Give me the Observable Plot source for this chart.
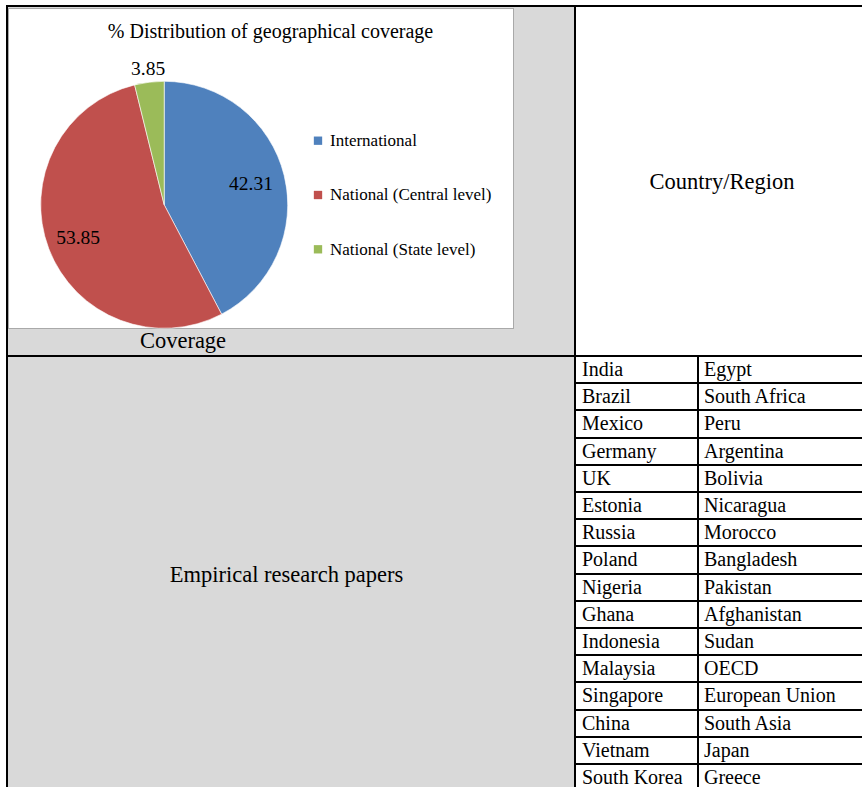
<!DOCTYPE html>
<html><head><meta charset="utf-8">
<script src="https://cdn.jsdelivr.net/npm/d3@7"></script>
<script src="https://cdn.jsdelivr.net/npm/@observablehq/plot@0.6"></script>
<style>
html,body{margin:0;padding:0;background:#fff;overflow:hidden;width:862px;height:787px;}
body{position:relative;font-family:"Liberation Serif","Times New Roman",serif;color:#000;}
.abs{position:absolute;}
.ln{position:absolute;background:#000;}
.cell{position:absolute;font-size:20px;white-space:nowrap;}
.big{position:absolute;font-size:22.5px;display:flex;align-items:center;justify-content:center;white-space:nowrap;}
</style></head><body>
<script>
// ---------- data ----------
const chartTitle = "% Distribution of geographical coverage";
const categories = ["International", "National (Central level)", "National (State level)"];
const shares = [42.31, 53.85, 3.85];
const shareLabels = ["42.31", "53.85", "3.85"];
const sliceColors = ["#4f81bd", "#c0504d", "#9bbb59"];
const countriesCol1 = ["India","Brazil","Mexico","Germany","UK","Estonia","Russia","Poland","Nigeria","Ghana","Indonesia","Malaysia","Singapore","China","Vietnam","South Korea"];
const countriesCol2 = ["Egypt","South Africa","Peru","Argentina","Bolivia","Nicaragua","Morocco","Bangladesh","Pakistan","Afghanistan","Sudan","OECD","European Union","South Asia","Japan","Greece"];
const headerRight = "Country/Region";
const headerLeftBottom = "Empirical research papers";
const coverageLabel = "Coverage";

// ---------- layout ----------
const body = document.body;
function add(cls, css, text) {
  const d = document.createElement("div");
  d.className = cls;
  Object.assign(d.style, css);
  if (text != null) d.textContent = text;
  body.appendChild(d);
  return d;
}
// grey cells
add("abs", {left:"8px", top:"7px", width:"566px", height:"348px", background:"#d9d9d9"});
add("abs", {left:"8px", top:"357px", width:"566px", height:"440px", background:"#d9d9d9"});
// main grid lines
add("ln", {left:"6px", top:"5px", width:"870px", height:"2px"});
add("ln", {left:"6px", top:"5px", width:"2px", height:"800px"});
add("ln", {left:"574px", top:"5px", width:"2px", height:"800px"});
add("ln", {left:"6px", top:"355px", width:"870px", height:"2px"});
// country table
const rowH = 27.2, tableTop = 355;
add("ln", {left:"697px", top:tableTop + "px", width:"2px", height:"450px"});
countriesCol1.forEach((c, i) => {
  const top = tableTop + (i + 1) * rowH;
  add("ln", {left:"576px", top: top + "px", width:"300px", height:"2px"});
  const ty = tableTop + 2 + i * rowH;
  add("cell", {left:"582px", top: ty + "px", height:(rowH - 2) + "px", lineHeight:(rowH - 2) + "px"}, c);
  add("cell", {left:"704px", top: ty + "px", height:(rowH - 2) + "px", lineHeight:(rowH - 2) + "px"}, countriesCol2[i]);
});
// big labels
add("big", {left:"576px", top:"7px", width:"292px", height:"350px"}, headerRight);
add("big", {left:"8px", top:"357px", width:"557px", height:"436px"}, headerLeftBottom);
add("abs", {left:"8px", top:"330px", width:"350px", textAlign:"center", fontSize:"22.5px", lineHeight:"22.5px"}, coverageLabel);

// chart box
const box = add("abs", {left:"8px", top:"8px", width:"506px", height:"321px", background:"#fff",
  border:"1.5px solid #a9a9a9", boxSizing:"border-box", overflow:"visible"});

// ---------- pie chart (Plot) ----------
const W = 503, H = 318;
const CX = 155.2, CY = 195.8, R = 123.5;
const labelRadius = [0.72, 0.75, 1.115];
const data = categories.map((c, i) => ({category: c, value: shares[i], label: shareLabels[i]}));
const arcs = d3.pie().sort(null).value(d => d.value)(data);
const mid = a => (a.startAngle + a.endAngle) / 2;

function pieMark(index, scales, values, dimensions, context) {
  const g = d3.create("svg:g");
  const arc = d3.arc().innerRadius(0).outerRadius(R);
  g.attr("transform", `translate(${scales.x(CX)},${scales.y(CY)})`)
    .selectAll("path").data(arcs).join("path")
    .attr("d", arc)
    .attr("fill", d => scales.color(d.data.category))
    .attr("stroke", "#ffffff").attr("stroke-width", 0.6);
  return g.node();
}

const chart = Plot.plot({
  width: W, height: H, margin: 0,
  x: {type: "identity", axis: null},
  y: {type: "identity", axis: null},
  color: {domain: categories, range: sliceColors},
  style: {fontFamily: "'Liberation Serif','Times New Roman',serif", background: "transparent", overflow: "visible", color: "#000"},
  marks: [
    pieMark,
    Plot.text([chartTitle], {x: () => 261, y: () => 22.5, text: d => d, fontSize: 20, fill: "#000", textAnchor: "middle", lineAnchor: "middle"}),
    Plot.text(arcs, {
      x: (d, i) => CX + Math.sin(mid(d)) * R * labelRadius[i],
      y: (d, i) => CY - Math.cos(mid(d)) * R * labelRadius[i],
      text: d => d.data.label, fontSize: 19.5, fill: "#000", textAnchor: "middle", lineAnchor: "middle"
    }),
    Plot.dot(categories, {x: () => 308.5, y: (d, i) => 131.2 + i * 54.3, symbol: "square", r: 4.7, fill: d => d, stroke: null}),
    Plot.text(categories, {x: () => 320.5, y: (d, i) => 131.2 + i * 54.3, text: d => d, fontSize: 17, fill: "#000", textAnchor: "start", lineAnchor: "middle"})
  ]
});
chart.style.position = "absolute";
chart.style.left = "0px";
chart.style.top = "0px";
box.appendChild(chart);
</script>
</body></html>
